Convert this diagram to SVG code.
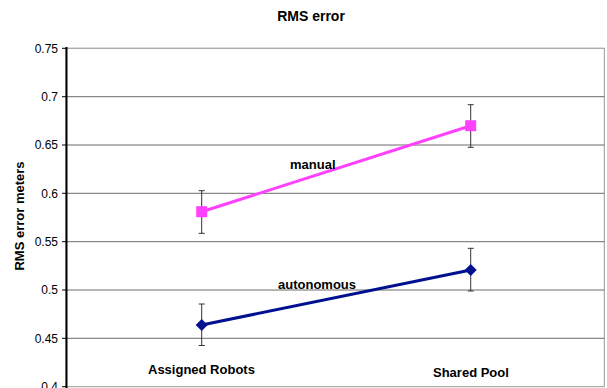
<svg xmlns="http://www.w3.org/2000/svg" width="607" height="388" viewBox="0 0 607 388">
<style>
text{font-family:"Liberation Sans",Arial,sans-serif;fill:#000}
.tick{font-size:12px;text-anchor:end}
.lbl{font-size:13px;font-weight:bold}
.grid{stroke:#6a6a6a;stroke-width:1}
.err{stroke:#333;stroke-width:1}
</style>
<rect width="607" height="388" fill="#fff"/>
<g id="plot">
<rect x="66" y="48.3" width="538.3" height="338.4" fill="none" stroke="#999" stroke-width="1"/>
<g class="grid">
<line x1="66" y1="48.3" x2="604.3" y2="48.3" stroke="#aaa"/>
<line x1="66" y1="96.7" x2="604.3" y2="96.7"/>
<line x1="66" y1="145" x2="604.3" y2="145"/>
<line x1="66" y1="193.3" x2="604.3" y2="193.3"/>
<line x1="66" y1="241.7" x2="604.3" y2="241.7"/>
<line x1="66" y1="290" x2="604.3" y2="290"/>
<line x1="66" y1="338.3" x2="604.3" y2="338.3"/>
</g>
<g stroke="#000" stroke-width="1">
<line x1="62" y1="48.3" x2="66" y2="48.3"/>
<line x1="62" y1="96.7" x2="66" y2="96.7"/>
<line x1="62" y1="145" x2="66" y2="145"/>
<line x1="62" y1="193.3" x2="66" y2="193.3"/>
<line x1="62" y1="241.7" x2="66" y2="241.7"/>
<line x1="62" y1="290" x2="66" y2="290"/>
<line x1="62" y1="338.3" x2="66" y2="338.3"/>
<line x1="62" y1="386.7" x2="66" y2="386.7"/>
</g>
<line x1="66.5" y1="47" x2="66.5" y2="388" stroke="#000" stroke-width="2"/>
<g class="tick">
<text x="58" y="52.5">0.75</text>
<text x="58" y="101">0.7</text>
<text x="58" y="149">0.65</text>
<text x="58" y="197.5">0.6</text>
<text x="58" y="246">0.55</text>
<text x="58" y="294">0.5</text>
<text x="58" y="342.5">0.45</text>
<text x="58" y="391">0.4</text>
</g>
</g>
<text x="311" y="21" style="font-size:14px;font-weight:bold" text-anchor="middle">RMS error</text>
<text transform="translate(24,216) rotate(-90)" class="lbl" text-anchor="middle">RMS error meters</text>
<g id="errorbars" class="err">
<line x1="201.7" y1="190.7" x2="201.7" y2="233.3"/><line x1="198.7" y1="190.7" x2="204.7" y2="190.7"/><line x1="198.7" y1="233.3" x2="204.7" y2="233.3"/>
<line x1="201.7" y1="304" x2="201.7" y2="345.5"/><line x1="198.7" y1="304" x2="204.7" y2="304"/><line x1="198.7" y1="345.5" x2="204.7" y2="345.5"/>
<line x1="470.7" y1="104.7" x2="470.7" y2="147.3"/><line x1="467.7" y1="104.7" x2="473.7" y2="104.7"/><line x1="467.7" y1="147.3" x2="473.7" y2="147.3"/>
<line x1="470.7" y1="248.3" x2="470.7" y2="291"/><line x1="467.7" y1="248.3" x2="473.7" y2="248.3"/><line x1="467.7" y1="291" x2="473.7" y2="291"/>
</g>
<g id="connectors">
<line x1="201.7" y1="211.7" x2="470.7" y2="125.7" stroke="#ff40ff" stroke-width="3"/>
<line x1="201.7" y1="325" x2="470.7" y2="270" stroke="#00108f" stroke-width="3"/>
</g>
<g id="manual-assigned"><rect x="196.2" y="206.2" width="11" height="11" fill="#ff40ff"/></g>
<g id="manual-shared"><rect x="465.2" y="120.2" width="11" height="11" fill="#ff40ff"/></g>
<g id="auto-assigned"><polygon points="201.7,319 207.7,325 201.7,331 195.7,325" fill="#00108f"/></g>
<g id="auto-shared"><polygon points="470.7,264 476.7,270 470.7,276 464.7,270" fill="#00108f"/></g>
<text x="290" y="169" class="lbl">manual</text>
<text x="278" y="289" class="lbl">autonomous</text>
<text x="148" y="374" class="lbl">Assigned Robots</text>
<text x="433" y="377" class="lbl">Shared Pool</text>
</svg>
